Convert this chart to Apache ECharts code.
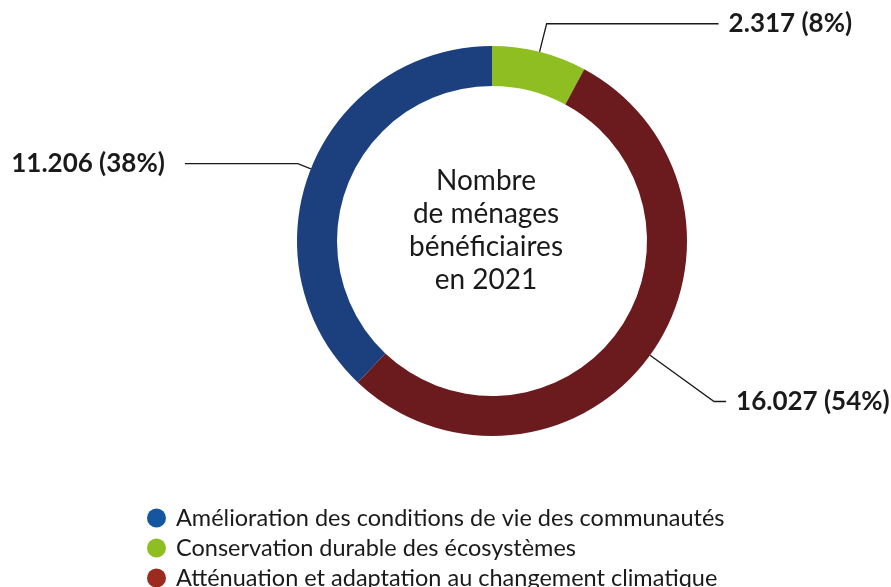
<!DOCTYPE html>
<html>
<head>
<meta charset="utf-8">
<script src="https://cdn.jsdelivr.net/npm/echarts@6/dist/echarts.min.js"></script>
<style>
  html, body { margin: 0; padding: 0; background: #fff; }
  #chart { width: 891px; height: 587px; }
</style>
</head>
<body>
<div id="chart"></div>
<script>
// données (ordre du cercle, dans le sens horaire depuis le haut)
var names = [
  "Conservation durable des écosystèmes",
  "Atténuation et adaptation au changement climatique",
  "Amélioration des conditions de vie des communautés"
];
var values = [2317, 16027, 11206];
var labels = ["2.317 (8%)", "16.027 (54%)", "11.206 (38%)"];
var ringColors = ["#8fbe22", "#6b1a1e", "#1c3f7e"];
// légende
var legendNames = [
  "Amélioration des conditions de vie des communautés",
  "Conservation durable des écosystèmes",
  "Atténuation et adaptation au changement climatique"
];
var legendColors = ["#1457a0", "#8fbe22", "#9a2b1e"];
var centerText = "Nombre\nde ménages\nbénéficiaires\nen 2021";

// réglages des traits d'étiquettes par tranche
var labelCfg = [
  { len: 29, len2: 172, dist: 10 },
  { len: 79, len2: 12, dist: 10 },
  { len: 14, len2: 113, dist: 20 }
];

var chart = echarts.init(document.getElementById("chart"));

chart.setOption({
  animation: false,
  textStyle: { fontFamily: "Lato" },
  title: {
    text: centerText,
    left: 481,
    top: 159,
    textAlign: "center",
    textStyle: {
      fontFamily: "Lato",
      fontWeight: "normal",
      fontSize: 28,
      lineHeight: 33,
      color: "#1a1a1a"
    }
  },
  legend: {
    orient: "vertical",
    left: 142,
    top: 501,
    height: 100,
    itemWidth: 19,
    itemHeight: 19,
    itemGap: 6,
    icon: "circle",
    data: legendNames.map(function (n, i) {
      return { name: n, itemStyle: { color: legendColors[i] } };
    }),
    textStyle: {
      fontFamily: "Lato",
      fontSize: 23.5,
      color: "#1a1a1a",
      padding: [0, 0, 0, 5]
    }
  },
  series: [
    {
      type: "pie",
      center: [492, 241],
      radius: [155, 195],
      startAngle: 90,
      clockwise: true,
      avoidLabelOverlap: false,
      itemStyle: { borderWidth: 0 },
      emphasis: { disabled: true },
      data: values.map(function (v, i) {
        return {
          name: names[i],
          value: v,
          itemStyle: { color: ringColors[i] },
          label: {
            formatter: labels[i],
            distanceToLabelLine: labelCfg[i].dist
          },
          labelLine: { length: labelCfg[i].len, length2: labelCfg[i].len2 }
        };
      }),
      label: {
        show: true,
        position: "outside",
        fontFamily: "Lato",
        fontWeight: "bold",
        fontSize: 26,
        color: "#1a1a1a"
      },
      labelLine: {
        show: true,
        lineStyle: { color: "#1a1a1a", width: 1.3 }
      }
    }
  ]
});
</script>
</body>
</html>
